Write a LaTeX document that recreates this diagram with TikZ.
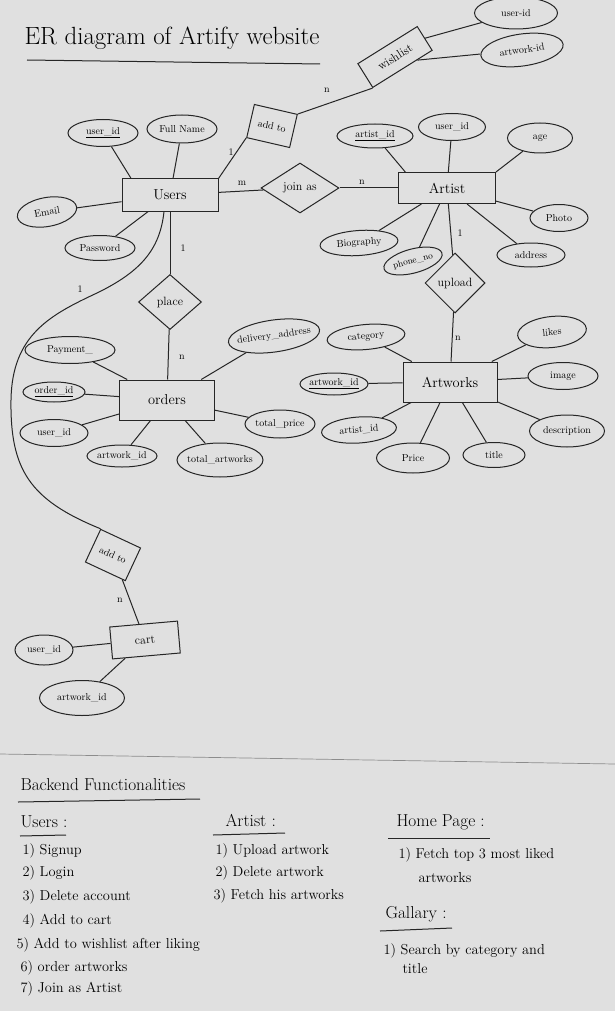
\documentclass[tikz,border=0pt]{standalone}
\usetikzlibrary{shapes.geometric}
\begin{document}
\begin{tikzpicture}[x=1pt, y=-1pt, line width=1pt]
\tikzstyle{ent} = [rectangle, draw=black!85, font=\Large, inner sep=0pt]
\tikzstyle{att} = [ellipse, draw=black!85, font=\normalsize, inner xsep=-6pt, inner ysep=0pt]
\tikzstyle{rel} = [diamond, draw=black!85, font=\large, inner sep=0pt]
\tikzstyle{e} = [draw=black!85]
\tikzstyle{card} = [font=\normalsize, inner sep=1pt]
\tikzstyle{txt} = [anchor=west, font=\Large, inner sep=0pt]
\tikzstyle{hd} = [anchor=west, font=\LARGE, inner sep=0pt]

\fill[black!12] (0,0) rectangle (615,1011);
\useasboundingbox (0,0) rectangle (615,1011);

\node[font=\Huge, inner sep=0pt] (title) at (172,38) {ER diagram of Artify website};
\draw[e] (27,60) -- (320,64);

\node[ent, minimum width=70, minimum height=28, rotate=32, font=\large] (Wl) at (395,57) {wishlist};
\node[att, minimum width=83, minimum height=32] (Wlu) at (516,13) {user-id};
\node[att, minimum width=83, minimum height=32, rotate=8] (Wla) at (522,50) {artwork-id};
\node[ent, minimum width=44, minimum height=34, rotate=-13, font=\normalsize] (T1) at (272,126) {add to};

\node[ent, minimum width=96, minimum height=32] (U) at (170,195) {Users};
\node[att, minimum width=70, minimum height=27] (Uid) at (103,133) {\underline{user\_id}};
\node[att, minimum width=70, minimum height=28] (Ufn) at (182,129) {Full Name};
\node[att, minimum width=60, minimum height=29, rotate=10] (Uem) at (47,212) {Email};
\node[att, minimum width=70, minimum height=25] (Upw) at (100,248) {Password};

\node[rel, minimum width=78, minimum height=50] (J) at (300,188) {join as};

\node[ent, minimum width=97, minimum height=31] (Ar) at (447,188) {Artist};
\node[att, minimum width=76, minimum height=24] (Arid) at (375,136) {\underline{artist\_id}};
\node[att, minimum width=67, minimum height=27] (Aruid) at (452,127) {user\_id};
\node[att, minimum width=65, minimum height=30] (Arage) at (540,138) {age};
\node[att, minimum width=58, minimum height=27] (Arph) at (559,218) {Photo};
\node[att, minimum width=68, minimum height=24] (Aradd) at (531,255) {address};
\node[att, minimum width=78, minimum height=25, rotate=4] (Arbio) at (359,243) {Biography};
\node[att, minimum width=60, minimum height=24, rotate=15, font=\small] (Arpn) at (413,261) {phone\_no};

\node[rel, minimum width=60, minimum height=60] (Up) at (455,283) {upload};

\node[ent, minimum width=94, minimum height=40] (Aw) at (450,382) {Artworks};
\node[att, minimum width=78, minimum height=25, rotate=5] (Awcat) at (366,337) {category};
\node[att, minimum width=69, minimum height=31, rotate=6] (Awlk) at (552,332) {likes};
\node[att, minimum width=70, minimum height=27] (Awimg) at (563,376) {image};
\node[att, minimum width=68, minimum height=22] (Awid) at (334,384) {\underline{artwork\_id}};
\node[att, minimum width=75, minimum height=26, rotate=4] (Awaid) at (359,430) {artist\_id};
\node[att, minimum width=73, minimum height=30] (Awpr) at (413,458) {Price};
\node[att, minimum width=62, minimum height=25] (Awti) at (494,455) {title};
\node[att, minimum width=75, minimum height=32] (Awdes) at (567,431) {description};

\node[rel, minimum width=63, minimum height=55] (P) at (170,302) {place};

\node[ent, minimum width=95, minimum height=40] (O) at (167,400) {orders};
\node[att, minimum width=90, minimum height=27] (Opay) at (70,350) {Payment\_};
\node[att, minimum width=62, minimum height=20] (Oid) at (54,392) {\underline{order\_id}};
\node[att, minimum width=68, minimum height=27] (Ouid) at (54,433) {user\_id};
\node[att, minimum width=70, minimum height=22] (Oaid) at (122,456) {artwork\_id};
\node[att, minimum width=86, minimum height=34] (Ota) at (220,460) {total\_artworks};
\node[att, minimum width=70, minimum height=28] (Otp) at (280,424) {total\_price};
\node[att, minimum width=92, minimum height=32, rotate=8] (Oda) at (274,336) {delivery\_address};

\node[ent, minimum width=44, minimum height=36, rotate=-25, font=\normalsize] (T2) at (113,555) {add to};
\node[ent, minimum width=68, minimum height=32, rotate=5, font=\large] (C) at (145,640) {cart};
\node[att, minimum width=58, minimum height=30] (Cu) at (44,650) {user\_id};
\node[att, minimum width=85, minimum height=35] (Ca) at (82,698) {artwork\_id};

\node[card] (c1) at (327,90) {n};
\node[card] (c2) at (231,152) {1};
\node[card] (c3) at (242,183) {m};
\node[card] (c4) at (362,182) {n};
\node[card] (c5) at (183,248) {1};
\node[card] (c6) at (182,357) {n};
\node[card] (c7) at (460,233) {1};
\node[card] (c8) at (458,338) {n};
\node[card] (c9) at (80,289) {1};
\node[card] (c10) at (120,600) {n};

\draw[e] (T1.north east) to (Wl.south west);
\draw[e] (Wl.east) to (Wlu);
\draw[e] (Wl.-40) to (Wla);
\draw[e] (T1.south west) to (U.north east);

\draw[e] (U.157) to (Uid);
\draw[e] (U) to (Ufn);
\draw[e] (U) to (Uem);
\draw[e] (U) to (Upw);
\draw[e] (U) to (J);
\draw[e] (J) to (Ar);

\draw[e] (Ar.159) to (Arid);
\draw[e] (Ar) to (Aruid);
\draw[e] (Ar.north east) to (Arage);
\draw[e] (Ar) to (Arph);
\draw[e] (Ar) to (Aradd);
\draw[e] (Ar) to (Arpn);
\draw[e] (Ar) to (Arbio);
\draw[e] (Ar) to (Up);
\draw[e] (Up) to (Aw);

\draw[e] (Aw) to (Awcat);
\draw[e] (Aw) to (Awlk);
\draw[e] (Aw) to (Awimg);
\draw[e] (Aw) to (Awid);
\draw[e] (Aw) to (Awaid);
\draw[e] (Aw) to (Awpr);
\draw[e] (Aw) to (Awti);
\draw[e] (Aw) to (Awdes);

\draw[e] (U) to (P);
\draw[e] (P) to (O);
\draw[e] (O) to (Opay);
\draw[e] (O) to (Oid);
\draw[e] (O) to (Ouid);
\draw[e] (O) to (Oaid);
\draw[e] (O) to (Ota);
\draw[e] (O) to (Otp);
\draw[e] (O) to (Oda);

\draw[e] (U.250) .. controls (160,250) and (140,272) .. (97,293)
  .. controls (50,315) and (12,335) .. (11,400)
  .. controls (10,470) and (30,500) .. (T2.north west);
\draw[e] (T2) to (C);
\draw[e] (C) to (Cu);
\draw[e] (C) to (Ca);

\draw[black!45, line width=0.7pt] (0,754) -- (615,764);

\node[hd] (bf) at (20,785) {Backend Functionalities};
\draw[e] (18,802) -- (200,799);

\node[hd] (hu) at (20,822) {Users :};
\draw[e] (20,836) -- (66,835);
\node[txt] (u1) at (22,851) {1) Signup};
\node[txt] (u2) at (22,873) {2) Login};
\node[txt] (u3) at (22,897) {3) Delete account};
\node[txt] (u4) at (22,921) {4) Add to cart};
\node[txt] (u5) at (16,945) {5) Add to wishlist after liking};
\node[txt] (u6) at (20,968) {6) order artworks};
\node[txt] (u7) at (20,989) {7) Join as Artist};

\node[hd] (ha) at (225,820) {Artist :};
\draw[e] (213,835) -- (285,833);
\node[txt] (a1) at (215,851) {1) Upload artwork};
\node[txt] (a2) at (215,873) {2) Delete artwork};
\node[txt] (a3) at (213,896) {3) Fetch his artworks};

\node[hd] (hh) at (396,822) {Home Page :};
\draw[e] (388,838) -- (490,838);
\node[txt] (h1) at (398,855) {1) Fetch top 3 most liked};
\node[txt] (h2) at (418,878) {artworks};

\node[hd] (hg) at (385,914) {Gallary :};
\draw[e] (380,931) -- (452,928);
\node[txt] (g1) at (383,951) {1) Search by category and};
\node[txt] (g2) at (402,969) {title};
\end{tikzpicture}
\end{document}
